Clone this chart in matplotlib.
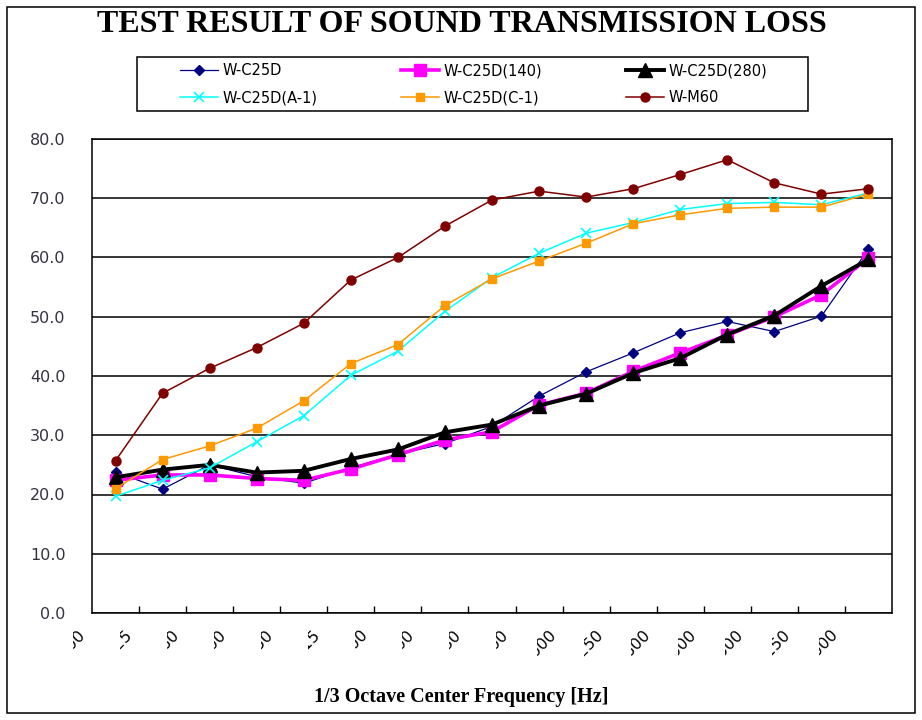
# Sound transmission loss test chart (1/3 octave bands)
import numpy as np
import matplotlib
matplotlib.use('Agg')
import matplotlib.pyplot as plt
from matplotlib.patches import Rectangle
from matplotlib.transforms import Bbox, IdentityTransform
from matplotlib.ticker import FormatStrFormatter

# data
freqs = ['100', '125', '160', '200', '250', '315', '400', '500', '630',
         '800', '1000', '1250', '1600', '2000', '2500', '3150', '4000']
w_c25d = [23.8, 20.9, 25.0, 23.0, 21.9, 24.5, 26.8, 28.6, 31.5,
          36.6, 40.7, 43.9, 47.3, 49.2, 47.5, 50.1, 61.4]
w_c25d_140 = [22.4, 23.3, 23.3, 22.7, 22.4, 24.3, 26.7, 29.2, 30.6,
              35.1, 37.1, 40.8, 43.9, 46.9, 50.0, 53.7, 59.9]
w_c25d_280 = [22.9, 24.2, 25.0, 23.7, 24.0, 26.0, 27.6, 30.5, 31.8,
              35.0, 37.0, 40.5, 43.0, 47.0, 50.2, 55.2, 59.7]
w_c25d_a1 = [19.7, 22.4, 24.5, 28.9, 33.3, 40.1, 44.2, 50.9, 56.6,
             60.7, 64.1, 65.9, 68.1, 69.1, 69.3, 68.9, 70.9]
w_c25d_c1 = [21.0, 25.9, 28.2, 31.2, 35.8, 42.1, 45.3, 51.9, 56.4,
             59.4, 62.4, 65.7, 67.2, 68.3, 68.5, 68.5, 70.7]
w_m60 = [25.7, 37.1, 41.3, 44.8, 48.9, 56.2, 60.0, 65.3, 69.7,
         71.2, 70.2, 71.6, 74.0, 76.5, 72.6, 70.7, 71.6]

W, H = 922, 720
fig = plt.figure(figsize=(W / 100, H / 100), dpi=100)
ax = fig.add_axes([92 / W, 107 / H, 800 / W, 474 / H])

x = np.arange(len(freqs))
l1, = ax.plot(x, w_c25d, color='#000080', lw=0.9, marker='D', ms=5.5,
              mec='#000080', label='W-C25D')
l2, = ax.plot(x, w_c25d_140, color='#ff00ff', lw=2.6, marker='s', ms=9,
              mec='#ff00ff', label='W-C25D(140)')
l3, = ax.plot(x, w_c25d_280, color='black', lw=2.8, marker='^', ms=10,
              label='W-C25D(280)')
l4, = ax.plot(x, w_c25d_a1, color='#00ffff', lw=1.1, marker='x', ms=7,
              mew=1.2, label='W-C25D(A-1)')
l5, = ax.plot(x, w_c25d_c1, color='#ff9900', lw=1.1, marker='s', ms=6,
              mec='#ff9900', label='W-C25D(C-1)')
l6, = ax.plot(x, w_m60, color='#800000', lw=1.1, marker='o', ms=6.5,
              label='W-M60')

ax.set_xlim(-0.5, len(freqs) - 0.5)
ax.set_ylim(0, 80)
ax.set_yticks(np.arange(0, 81, 10))
ax.yaxis.set_major_formatter(FormatStrFormatter('%.1f'))
ax.yaxis.grid(True, color='black', lw=1.1)
ax.tick_params(axis='y', length=0, pad=19, labelsize=11.5, labelcolor='#333340')
ax.set_xticks(x)
ax.set_xticklabels([])
ax.tick_params(axis='x', which='major', length=0)
ax.set_xticks(np.arange(0.5, len(freqs) - 1, 1), minor=True)
ax.tick_params(axis='x', which='minor', direction='in', length=5, width=1, color='black')
for s in ax.spines.values():
    s.set_color('black')
    s.set_linewidth(1.1)

# x labels: rotated and cut off at the start, like in the original
for i, f in enumerate(freqs):
    px, py = ax.transData.transform((i, 0))
    ax_x = px - 38
    ax_y = py - 14
    t = fig.text(ax_x, ax_y, f, transform=IdentityTransform(), rotation=45,
                 rotation_mode='anchor', ha='right', va='top', fontsize=11.5,
                 color='black')
    vis = 14 + 6 * (len(f) - 3)
    t.set_clip_box(Bbox([[ax_x + 9 - vis, ax_y - 50], [ax_x + 30, ax_y + 10]]))
    t.set_clip_on(True)

fig.text(462 / W, 1 - 24 / H, 'TEST RESULT OF SOUND TRANSMISSION LOSS',
         ha='center', va='center', fontfamily='Liberation Serif',
         fontweight='bold', fontsize=23)
fig.text(461 / W, 1 - 697 / H, '1/3 Octave Center Frequency [Hz]',
         ha='center', va='center', fontfamily='Liberation Serif',
         fontweight='bold', fontsize=14.5)

# legend box drawn by hand, entries placed inside
fig.add_artist(Rectangle((137 / W, 1 - 111 / H), 671 / W, 54 / H,
                         transform=fig.transFigure, fill=False, ec='black', lw=1.1))
fig.legend([l1, l4, l2, l5, l3, l6],
           [l.get_label() for l in [l1, l4, l2, l5, l3, l6]],
           ncol=3, frameon=False, loc='upper left',
           bbox_to_anchor=(180 / W, 1 - 63 / H), borderpad=0, borderaxespad=0,
           columnspacing=5.75, handlelength=2.6, handletextpad=0.3,
           labelspacing=0.85, fontsize=10.5)

fig.add_artist(Rectangle((7 / W, 7 / H), 908 / W, 706 / H,
                         transform=fig.transFigure, fill=False, ec='black', lw=1.1))

fig.savefig('out.png', dpi=100)
